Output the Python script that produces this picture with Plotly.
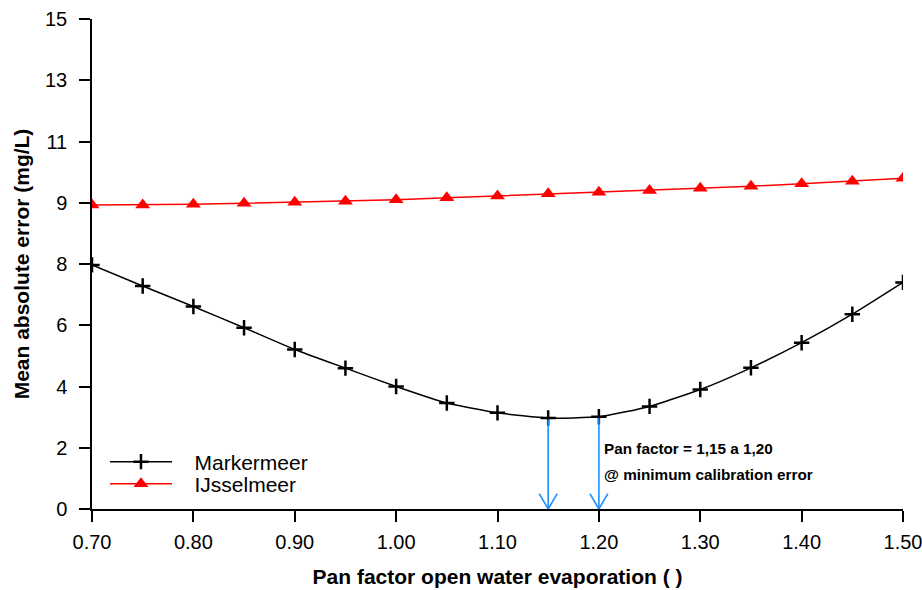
import plotly.graph_objects as go

pan_factor = [0.70, 0.75, 0.80, 0.85, 0.90, 0.95, 1.00, 1.05, 1.10, 1.15, 1.20,
              1.25, 1.30, 1.35, 1.40, 1.45, 1.50]
markermeer = [7.97, 7.28, 6.61, 5.92, 5.21, 4.60, 4.00, 3.46, 3.14, 2.97, 3.01,
              3.35, 3.90, 4.61, 5.43, 6.36, 7.40]
ijsselmeer = [8.93, 8.93, 8.95, 8.98, 9.02, 9.05, 9.10, 9.16, 9.22, 9.29, 9.34,
              9.40, 9.47, 9.54, 9.62, 9.70, 9.80]
y_tick_values = [0, 2, 4, 6, 8, 9, 11, 13, 15]
x_tick_values = [0.70, 0.80, 0.90, 1.00, 1.10, 1.20, 1.30, 1.40, 1.50]
arrow_x = [1.15, 1.20]
annotation_lines = ["Pan factor = 1,15 a 1,20", "@ minimum calibration error"]

BREAK = 8.0   # axis break: values above 8 are shifted up by one unit


def ty(v):
    return v if v <= BREAK else v + 1.0


FONT = "Liberation Sans, Arial, sans-serif"
SP = "&nbsp;" * 3

fig = go.Figure()

fig.add_trace(go.Scatter(
    x=pan_factor, y=[ty(v) for v in markermeer], name=SP + "Markermeer", legend="legend",
    mode="lines+markers", line=dict(color="black", width=1.5, shape="spline", smoothing=0.5),
    marker=dict(symbol="cross-thin", size=11, line=dict(color="black", width=2.5)),
    customdata=markermeer, hovertemplate="%{x:.2f}: %{customdata}<extra>Markermeer</extra>"))

fig.add_trace(go.Scatter(
    x=pan_factor, y=[ty(v) for v in ijsselmeer], name=SP + "IJsselmeer", legend="legend2",
    mode="lines+markers", line=dict(color="red", width=1.5),
    marker=dict(symbol="triangle-up", size=13, color="red"),
    customdata=ijsselmeer, hovertemplate="%{x:.2f}: %{customdata}<extra>IJsselmeer</extra>"))

# blue arrows from the curve down to the x axis
blue = "#1E90FF"
ax, ay = [], []
hx, hy = [], []
dx, dh = 0.0089, 0.5
for xv in arrow_x:
    yv = markermeer[pan_factor.index(xv)]
    ax += [xv, xv, None]
    ay += [ty(yv) - 0.05, 0, None]
    hx += [xv - dx, xv, xv + dx, None]
    hy += [dh, 0, dh, None]
fig.add_trace(go.Scatter(x=ax, y=ay, mode="lines", line=dict(color=blue, width=1.6),
                         showlegend=False, hoverinfo="skip"))
fig.add_trace(go.Scatter(x=hx, y=hy, mode="lines", line=dict(color=blue, width=1.6),
                         showlegend=False, hoverinfo="skip"))

for txt, yv in zip(annotation_lines, [1.96, 1.14]):
    fig.add_annotation(x=1.203, y=yv, xref="x", yref="y", xanchor="left", yanchor="middle",
                       text="<b>" + txt + "</b>", showarrow=False, align="left",
                       font=dict(family=FONT, size=15.3, color="black"))

leg_common = dict(xanchor="left", yanchor="middle", bgcolor="rgba(0,0,0,0)",
                  font=dict(family=FONT, size=21), itemwidth=62)

fig.update_layout(
    width=922, height=590,
    margin=dict(l=92, r=19, t=19, b=81),
    paper_bgcolor="white", plot_bgcolor="white",
    font=dict(family=FONT, color="black"),
    showlegend=True,
    legend=dict(x=0.016, y=(509 - 462) / 490, **leg_common),
    legend2=dict(x=0.016, y=(509 - 484) / 490, **leg_common),
    xaxis=dict(range=[0.70, 1.50], tickvals=x_tick_values,
               ticktext=[f"{v:.2f}" for v in x_tick_values],
               showline=True, linecolor="black", linewidth=1.5,
               ticks="outside", ticklen=11, tickwidth=1.5, tickcolor="black",
               showgrid=False, zeroline=False, automargin=False,
               ticklabeloverflow="allow", ticklabelstandoff=3,
               tickfont=dict(family=FONT, size=20),
               title=dict(text="<b>Pan factor open water evaporation ( )</b>",
                          font=dict(family=FONT, size=21), standoff=18)),
    yaxis=dict(range=[0, ty(15)], tickvals=[ty(v) for v in y_tick_values],
               ticktext=[str(v) for v in y_tick_values],
               showline=True, linecolor="black", linewidth=1.5,
               ticks="outside", ticklen=11, tickwidth=1.5, tickcolor="black",
               showgrid=False, zeroline=False, automargin=False,
               ticklabeloverflow="allow", ticklabelstandoff=8,
               tickfont=dict(family=FONT, size=20),
               title=dict(text="<b>Mean absolute error (mg/L)</b>",
                          font=dict(family=FONT, size=21), standoff=10)),
)

fig.write_html("out.html")
